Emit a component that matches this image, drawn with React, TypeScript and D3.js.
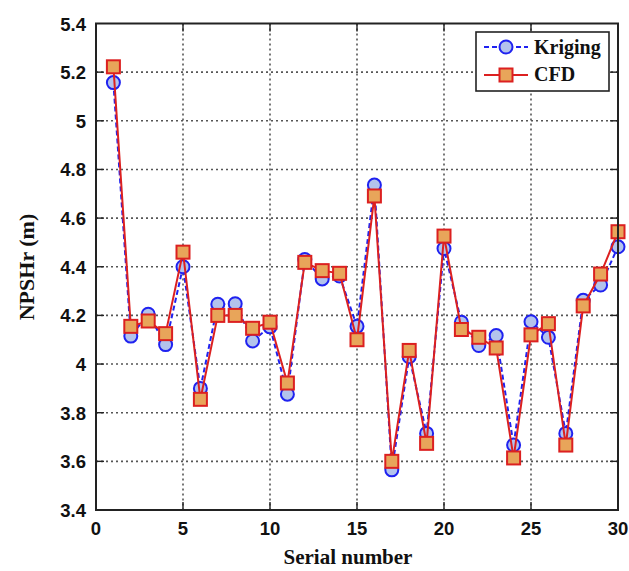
import * as d3 from "d3";

const serial = d3.range(1, 31);
const kriging = [
  5.157, 4.115, 4.205, 4.08, 4.4, 3.9, 4.246, 4.248, 4.095, 4.153,
  3.876, 4.43, 4.35, 4.362, 4.155, 4.736, 3.565, 4.03, 3.715, 4.475,
  4.172, 4.076, 4.117, 3.667, 4.174, 4.11, 3.715, 4.262, 4.325, 4.482,
];
const cfd = [
  5.222, 4.155, 4.177, 4.125, 4.46, 3.855, 4.2, 4.2, 4.147, 4.172,
  3.922, 4.418, 4.384, 4.373, 4.1, 4.691, 3.6, 4.056, 3.674, 4.526,
  4.142, 4.11, 4.066, 3.614, 4.12, 4.166, 3.667, 4.239, 4.37, 4.544,
];
const xTicks = [0, 5, 10, 15, 20, 25, 30];
const yTicks = [3.4, 3.6, 3.8, 4, 4.2, 4.4, 4.6, 4.8, 5, 5.2, 5.4];

const W = 629,
  H = 571;
const plot = { left: 96, right: 618, top: 23.5, bottom: 510 };

const x = d3.scaleLinear().domain([0, 30]).range([plot.left, plot.right]);
const y = d3.scaleLinear().domain([3.4, 5.4]).range([plot.bottom, plot.top]);

const line = d3
  .line<number>()
  .x((_, i) => x(serial[i]))
  .y((d) => y(d));

const blue = "#1f22f0";
const blueFill = "#b3c3ec";
const red = "#dc2020";
const orange = "#e8a55a";
const tickFont = "'Liberation Sans', Arial, sans-serif";
const serifFont = "'Liberation Serif', 'Times New Roman', serif";

export default function App() {
  return (
    <svg
      width={W}
      height={H}
      style={{ position: "absolute", left: 0, top: 0, background: "#fff" }}
    >
      {/* grid */}
      <g stroke="#555" strokeWidth={1.6} strokeDasharray="2,3">
        {xTicks.slice(1, -1).map((t) => (
          <line key={"gx" + t} x1={x(t)} x2={x(t)} y1={plot.top} y2={plot.bottom} />
        ))}
        {yTicks.slice(1, -1).map((t) => (
          <line key={"gy" + t} x1={plot.left} x2={plot.right} y1={y(t)} y2={y(t)} />
        ))}
      </g>
      {/* inward ticks */}
      <g stroke="#222" strokeWidth={1.4}>
        {xTicks.slice(1, -1).map((t) => (
          <g key={"tx" + t}>
            <line x1={x(t)} x2={x(t)} y1={plot.bottom} y2={plot.bottom - 8} />
            <line x1={x(t)} x2={x(t)} y1={plot.top} y2={plot.top + 8} />
          </g>
        ))}
        {yTicks.slice(1, -1).map((t) => (
          <g key={"ty" + t}>
            <line x1={plot.left} x2={plot.left + 8} y1={y(t)} y2={y(t)} />
            <line x1={plot.right} x2={plot.right - 8} y1={y(t)} y2={y(t)} />
          </g>
        ))}
      </g>
      {/* series: Kriging */}
      <path d={line(kriging) ?? ""} fill="none" stroke={blue} strokeWidth={2} strokeDasharray="5,3" />
      {kriging.map((v, i) => (
        <circle key={"k" + i} cx={x(serial[i])} cy={y(v)} r={6.5} fill={blueFill} stroke={blue} strokeWidth={2} />
      ))}
      {/* series: CFD */}
      <path d={line(cfd) ?? ""} fill="none" stroke={red} strokeWidth={2} />
      {cfd.map((v, i) => (
        <rect key={"c" + i} x={x(serial[i]) - 6.5} y={y(v) - 6.5} width={13} height={13} fill={orange} stroke={red} strokeWidth={2} />
      ))}
      {/* frame */}
      <rect
        x={plot.left}
        y={plot.top}
        width={plot.right - plot.left}
        height={plot.bottom - plot.top}
        fill="none"
        stroke="#222"
        strokeWidth={2}
      />
      {/* tick labels */}
      <g fontFamily={tickFont} fontWeight="bold" fontSize={18.5} fill="#111">
        {xTicks.map((t) => (
          <text key={"lx" + t} x={x(t)} y={535} textAnchor="middle">
            {t}
          </text>
        ))}
        {yTicks.map((t) => (
          <text key={"ly" + t} x={86} y={y(t) + 7} textAnchor="end">
            {t}
          </text>
        ))}
      </g>
      {/* axis titles */}
      <text
        x={348}
        y={564}
        textAnchor="middle"
        fontFamily={serifFont}
        fontWeight="bold"
        fontSize={21}
        fill="#111"
      >
        Serial number
      </text>
      <text
        transform="translate(34,267) rotate(-90)"
        textAnchor="middle"
        fontFamily={serifFont}
        fontWeight="bold"
        fontSize={22}
        fill="#111"
      >
        NPSHr (m)
      </text>
      {/* legend */}
      <g>
        <rect x={476} y={32} width={133} height={59} fill="#fff" stroke="#222" strokeWidth={1.6} />
        <line x1={484} x2={528} y1={47} y2={47} stroke={blue} strokeWidth={2} strokeDasharray="5,3" />
        <circle cx={506} cy={47} r={6.5} fill={blueFill} stroke={blue} strokeWidth={2} />
        <line x1={484} x2={528} y1={75} y2={75} stroke={red} strokeWidth={2} />
        <rect x={499.5} y={68.5} width={13} height={13} fill={orange} stroke={red} strokeWidth={2} />
        <g fontFamily={serifFont} fontWeight="bold" fontSize={20} fill="#111">
          <text x={534} y={54}>Kriging</text>
          <text x={534} y={81}>CFD</text>
        </g>
      </g>
    </svg>
  );
}
